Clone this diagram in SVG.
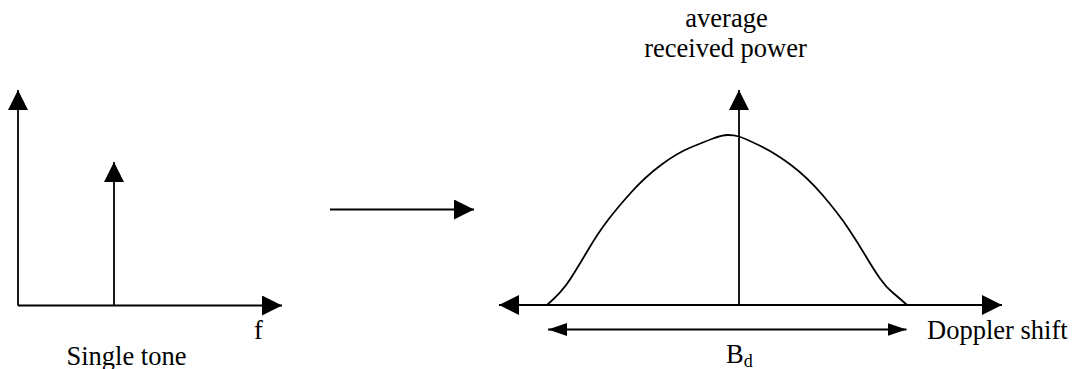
<svg xmlns="http://www.w3.org/2000/svg" width="1077" height="369" viewBox="0 0 1077 369">
  <style>
    .ln { stroke: #000; stroke-width: 1.8; fill: none; }
    .t { font-family: "Liberation Serif", "Times New Roman", serif; font-size: 26.5px; fill: #000; }
    .sub { font-family: "Liberation Serif", "Times New Roman", serif; font-size: 18px; fill: #000; }
  </style>
  <defs>
    <marker id="big" markerUnits="userSpaceOnUse" markerWidth="20" markerHeight="20" refX="20" refY="10" orient="auto-start-reverse" viewBox="0 0 20 20">
      <path d="M0,0 L20,10 L0,20 Z" fill="#000"/>
    </marker>
    <marker id="small" markerUnits="userSpaceOnUse" markerWidth="19" markerHeight="13" refX="19" refY="6.5" orient="auto-start-reverse" viewBox="0 0 19 13">
      <path d="M0,0 L19,6.5 L0,13 Z" fill="#000"/>
    </marker>
  </defs>
  <rect width="1077" height="369" fill="#fff"/>

  <g id="single-tone-plot">
    <line class="ln" x1="18" y1="305.5" x2="18" y2="90" marker-end="url(#big)"/>
    <line class="ln" x1="18" y1="305.5" x2="282" y2="305.5" marker-end="url(#big)"/>
    <line class="ln" x1="114" y1="305.5" x2="114" y2="162" marker-end="url(#big)"/>
    <text class="t" x="254" y="339">f</text>
    <text class="t" x="66.5" y="365">Single tone</text>
  </g>

  <g id="connectors">
    <line class="ln" x1="330" y1="209.5" x2="474" y2="209.5" marker-end="url(#big)"/>
  </g>

  <g id="doppler-spectrum-plot">
    <line class="ln" x1="499" y1="305" x2="1002" y2="305" marker-start="url(#big)" marker-end="url(#big)"/>
    <line class="ln" x1="739" y1="305" x2="739" y2="90" marker-end="url(#big)"/>
    <path class="ln" d="M547,305 Q562,292 570,279.5 Q578,267 588,250 Q598,233 608,220 Q618,207 631.5,192 Q645,177 661,165 Q677,153 690.5,147.5 Q704,142 713,138.5 Q722,135 728,135 Q734,135 739,136.5 Q744,138 759.5,145.5 Q775,153 791,165 Q807,177 822.5,195 Q838,213 848,228 Q858,243 866,256.5 Q874,270 880,278.5 Q886,287 892,292 Q898,297 907,305"/>
    <line class="ln" x1="548" y1="329.5" x2="906.5" y2="329.5" marker-start="url(#small)" marker-end="url(#small)"/>
    <text class="t" x="726.5" y="27" text-anchor="middle">average</text>
    <text class="t" x="725.5" y="57" text-anchor="middle">received power</text>
    <text class="t" x="927" y="339">Doppler shift</text>
    <text class="t" x="726" y="363">B<tspan class="sub" dy="3.5">d</tspan></text>
  </g>
</svg>
